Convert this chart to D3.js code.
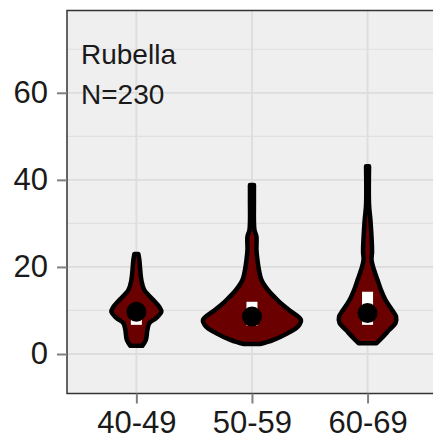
<!DOCTYPE html>
<html>
<head>
<meta charset="utf-8">
<script src="https://cdn.jsdelivr.net/npm/d3@7"></script>
<style>
  body { margin: 0; background: #fff; }
  text { font-family: "Liberation Sans", Arial, sans-serif; fill: #1a1a1a; }
</style>
</head>
<body>
<div id="chart"></div>
<script>
// age groups and read-off summary values
let groups = ["40-49", "50-59", "60-69"];
let q1 = [6.7, 6.5, 6.7];
let q3 = [11.0, 12.0, 14.3];
let means = [9.7, 8.6, 9.4];

// violin outlines: [value, relative density]
let dens4049 = [[1.9, 0.12], [3.2, 0.19], [5.5, 0.22], [7.1, 0.26], [8.3, 0.40], [9.7, 0.50],
  [10.8, 0.46], [12.4, 0.34], [14.7, 0.16], [17.0, 0.10], [21.6, 0.06], [23.0, 0.04]];
let dens5059 = [[2.3, 0.16], [3.2, 0.42], [4.8, 0.72], [6.3, 0.92], [7.8, 0.98], [10.1, 0.74],
  [12.4, 0.51], [14.7, 0.32], [17.0, 0.19], [19.3, 0.14], [21.6, 0.11], [23.9, 0.09],
  [27.0, 0.09], [28.5, 0.05], [35.4, 0.04], [38.8, 0.04]];
let dens6069 = [[2.5, 0.18], [4.0, 0.31], [5.5, 0.43], [7.1, 0.56], [8.6, 0.57], [10.1, 0.49],
  [12.4, 0.36], [14.7, 0.27], [17.0, 0.20], [19.3, 0.13], [21.6, 0.08], [23.5, 0.09],
  [30.4, 0.06], [34.3, 0.03], [43.1, 0.03]];
let densities = [dens4049, dens5059, dens6069];

let yTicks = [0, 20, 40, 60];
let yMinor = [10, 30, 50, 70];
let title = "Rubella";
let nLabel = "N=230";

let width = 433;
let height = 440;
let margin = {top: 10.5, left: 67, bottom: 46.5};

let svg = d3.select("#chart").append("svg")
  .attr("width", width)
  .attr("height", height);

// discrete axis with 0.6 expansion, like ggplot
let step = 115.6;
let x = d3.scalePoint()
  .domain(groups)
  .range([margin.left + 0.6 * step, margin.left + 2.6 * step]);
let panelRight = margin.left + 3.2 * step;

let y = d3.scaleLinear()
  .domain([-9.07, 78.9])
  .range([height - margin.bottom, margin.top]);

let w = d3.scaleLinear().domain([0, 1]).range([0, 50]);

// panel
svg.append("rect")
  .attr("x", margin.left)
  .attr("y", margin.top)
  .attr("width", panelRight - margin.left)
  .attr("height", y.range()[0] - margin.top)
  .attr("fill", "#efefef");

svg.selectAll(".minor")
  .data(yMinor)
  .enter().append("line")
  .attr("x1", margin.left).attr("x2", panelRight)
  .attr("y1", d => y(d)).attr("y2", d => y(d))
  .attr("stroke", "#e0e0e0").attr("stroke-width", 1.2);

svg.selectAll(".major")
  .data(yTicks)
  .enter().append("line")
  .attr("x1", margin.left).attr("x2", panelRight)
  .attr("y1", d => y(d)).attr("y2", d => y(d))
  .attr("stroke", "#dddddd").attr("stroke-width", 1.8);

svg.selectAll(".vgrid")
  .data(groups)
  .enter().append("line")
  .attr("x1", d => x(d)).attr("x2", d => x(d))
  .attr("y1", margin.top).attr("y2", y.range()[0])
  .attr("stroke", "#dddddd").attr("stroke-width", 1.8);

// violins
let area = d3.area()
  .y(d => y(d[0]))
  .curve(d3.curveCatmullRom);

groups.forEach((g, i) => {
  let cx = x(g);
  svg.append("path")
    .datum(densities[i])
    .attr("d", area.x0(d => cx - w(d[1])).x1(d => cx + w(d[1])))
    .attr("fill", "#6b0000")
    .attr("stroke", "#000")
    .attr("stroke-width", 4.5)
    .attr("stroke-linejoin", "round");

  svg.append("rect")
    .attr("x", cx - 5.5)
    .attr("y", y(q3[i]))
    .attr("width", 11)
    .attr("height", y(q1[i]) - y(q3[i]))
    .attr("fill", "#fff");

  svg.append("circle")
    .attr("cx", cx)
    .attr("cy", y(means[i]))
    .attr("r", 10)
    .attr("fill", "#000");
});

// panel border
svg.append("rect")
  .attr("x", margin.left)
  .attr("y", margin.top)
  .attr("width", panelRight - margin.left)
  .attr("height", y.range()[0] - margin.top)
  .attr("fill", "none")
  .attr("stroke", "#333")
  .attr("stroke-width", 1.5);

// axes
let yAxis = svg.append("g")
  .attr("transform", `translate(${margin.left},0)`)
  .call(d3.axisLeft(y).tickValues(yTicks).tickSize(10).tickPadding(9));
let xAxis = svg.append("g")
  .attr("transform", `translate(0,${y.range()[0]})`)
  .call(d3.axisBottom(x).tickSize(10).tickPadding(7));

[yAxis, xAxis].forEach(a => {
  a.select(".domain").remove();
  a.selectAll(".tick line").attr("stroke", "#808080").attr("stroke-width", 2);
  a.selectAll(".tick text")
    .attr("font-size", 31)
    .attr("fill", "#111")
    .attr("font-family", "Liberation Sans, Arial, sans-serif");
});

// annotation
svg.append("text").attr("x", 81).attr("y", 63.5).attr("font-size", 28).attr("fill", "#111").text(title);
svg.append("text").attr("x", 81).attr("y", 103.5).attr("font-size", 28).attr("fill", "#111").text(nLabel);
</script>
</body>
</html>
